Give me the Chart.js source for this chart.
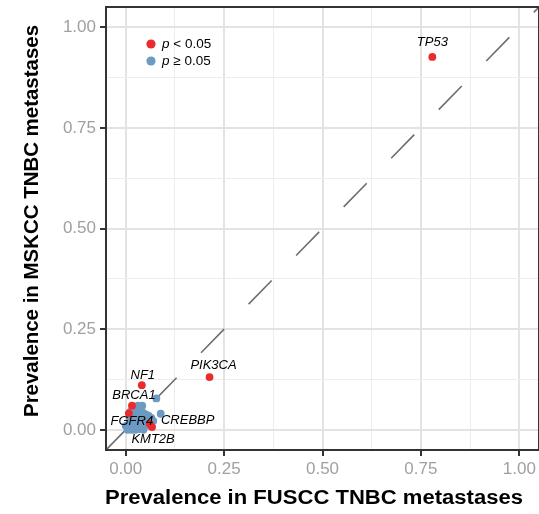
<!DOCTYPE html>
<html>
<head>
<meta charset="utf-8">
<script src="https://cdn.jsdelivr.net/npm/chart.js@4"></script>
<style>
  html, body { margin: 0; padding: 0; background: #fff; overflow: hidden; }
  #wrap { width: 543px; height: 514px; }
</style>
</head>
<body>
<div id="wrap"><canvas id="chart"></canvas></div>
<script>
// ── Data ──
const sigGenes = ["TP53", "PIK3CA", "NF1", "BRCA1", "FGFR4", "CREBBP", "KMT2B"];
const sigFuscc = [0.779, 0.213, 0.041, 0.016, 0.008, 0.061, 0.067];
const sigMskcc = [0.926, 0.131, 0.111, 0.060, 0.041, 0.015, 0.007];

const nsFuscc = [0.078, 0.089, 0.031, 0.042, 0.025, 0.035, 0.045, 0.052, 0.058, 0.065, 0.020, 0.030,
  0.040, 0.050, 0.010, 0.015, 0.025, 0.035, 0.045, 0.055, 0.000, 0.005, 0.010, 0.020, 0.030, 0.040,
  0.005, 0.015, 0.025, 0.035, 0.045, 0.012, 0.022, 0.060, 0.070];
const nsMskcc = [0.078, 0.040, 0.060, 0.060, 0.050, 0.045, 0.042, 0.038, 0.035, 0.030, 0.040, 0.035,
  0.030, 0.025, 0.030, 0.020, 0.020, 0.018, 0.015, 0.020, 0.010, 0.005, 0.012, 0.008, 0.005, 0.008,
  0.000, 0.000, 0.000, 0.002, 0.000, 0.045, 0.050, 0.010, 0.022];

const majorTicks = [0, 0.25, 0.5, 0.75, 1];
const minorTicks = [0.125, 0.375, 0.625, 0.875];
const axisRange = [-0.05, 1.05];

const legendLabels = ["< 0.05", "\u2265 0.05"];
const xTitle = "Prevalence in FUSCC TNBC metastases";
const yTitle = "Prevalence in MSKCC TNBC metastases";

const COLORS = {
  red: "#EC2A2C",
  blue: "#6C9AC2",
  diag: "#6E6E6E",
  major: "#E3E3E3",
  minor: "#EDEDED",
  frame: "#333333",
  tick: "#A0A0A0",
};
const FONT = "'Liberation Sans', Arial, sans-serif";

// label nudges in px (text centre relative to point)
const LABEL_NUDGE = {
  TP53: [0, -15], PIK3CA: [4, -12], NF1: [1, -10], BRCA1: [2, -10],
  FGFR4: [3, 8], CREBBP: [38, -3], KMT2B: [1, 12],
};

function isMajor(v) {
  return Math.abs(v * 4 - Math.round(v * 4)) < 1e-6;
}

function toPoints(xs, ys) {
  return xs.map((x, i) => ({ x, y: ys[i] }));
}

// ── Plugins ──
const decorPlugin = {
  id: "decor",
  afterDatasetsDraw(chart) {
    const { ctx, chartArea: a, scales } = chart;
    ctx.save();
    // gene labels
    ctx.fillStyle = "#000";
    ctx.font = "italic 13px " + FONT;
    ctx.textAlign = "center";
    ctx.textBaseline = "middle";
    sigGenes.forEach((g, i) => {
      const px = scales.x.getPixelForValue(sigFuscc[i]);
      const py = scales.y.getPixelForValue(sigMskcc[i]);
      const [dx, dy] = LABEL_NUDGE[g];
      ctx.fillText(g, px + dx, py + dy);
    });

    // legend
    const lx = a.left + 45, ly = a.top + 37;
    [COLORS.red, COLORS.blue].forEach((c, i) => {
      const y = ly + i * 17;
      ctx.fillStyle = c;
      ctx.beginPath();
      ctx.arc(lx, y, 4.6, 0, Math.PI * 2);
      ctx.fill();
      ctx.fillStyle = "#000";
      ctx.textAlign = "left";
      ctx.font = "italic 13.5px " + FONT;
      ctx.fillText("p", lx + 11, y);
      const w = ctx.measureText("p ").width;
      ctx.font = "13.5px " + FONT;
      ctx.fillText(legendLabels[i], lx + 11 + w, y);
    });

    // frame
    ctx.strokeStyle = COLORS.frame;
    ctx.lineWidth = 2;
    ctx.strokeRect(a.left, a.top, a.right - a.left, a.bottom - a.top);
    ctx.restore();
  },
  afterDraw(chart) {
    const { ctx } = chart;
    ctx.save();
    ctx.fillStyle = "#000";
    ctx.font = "bold 20px " + FONT;
    ctx.textAlign = "center";
    ctx.textBaseline = "middle";
    // x title
    let w = ctx.measureText(xTitle).width;
    ctx.translate(314, 498);
    ctx.scale(418 / w, 1);
    ctx.fillText(xTitle, 0, 0);
    ctx.setTransform(1, 0, 0, 1, 0, 0);
    // y title
    w = ctx.measureText(yTitle).width;
    ctx.translate(32, 221);
    ctx.rotate(-Math.PI / 2);
    ctx.scale(392 / w, 1);
    ctx.fillText(yTitle, 0, 0);
    ctx.restore();
  },
};

// ── Chart ──
const gridOpts = {
  color: (c) => (isMajor(c.tick.value) ? COLORS.major : COLORS.minor),
  lineWidth: (c) => (isMajor(c.tick.value) ? 2 : 1),
  tickColor: (c) => (isMajor(c.tick.value) ? COLORS.frame : "rgba(0,0,0,0)"),
  tickWidth: 2,
  tickLength: 6,
  drawTicks: true,
};

function allTicks(scale) {
  scale.ticks = [...majorTicks, ...minorTicks].sort((a, b) => a - b).map((v) => ({ value: v }));
}

const tickOpts = {
  callback: (v) => (isMajor(v) ? v.toFixed(2) : ""),
  color: COLORS.tick,
  font: { family: FONT, size: 17 },
  autoSkip: false,
  maxRotation: 0,
};

new Chart(document.getElementById("chart"), {
  type: "scatter",
  data: {
    datasets: [
      {
        label: "p < 0.05",
        data: toPoints(sigFuscc, sigMskcc),
        backgroundColor: COLORS.red,
        borderWidth: 0,
        pointRadius: 3.9,
        order: 1,
      },
      {
        label: "p >= 0.05",
        data: toPoints(nsFuscc, nsMskcc),
        backgroundColor: COLORS.blue,
        borderWidth: 0,
        pointRadius: 3.9,
        order: 2,
      },
      {
        type: "line",
        label: "y = x",
        data: toPoints(axisRange, axisRange),
        borderColor: COLORS.diag,
        borderWidth: 1.6,
        borderDash: [33, 35],
        pointRadius: 0,
        order: 3,
      },
    ],
  },
  options: {
    responsive: true,
    maintainAspectRatio: false,
    animation: false,
    layout: { padding: { top: 7, right: 0, left: 0, bottom: 0 } },
    plugins: { legend: { display: false }, tooltip: { enabled: false } },
    scales: {
      x: {
        type: "linear",
        min: axisRange[0],
        max: axisRange[1],
        afterBuildTicks: allTicks,
        afterFit: (s) => { s.height = 64; s.paddingLeft = 0; s.paddingRight = 0; },
        ticks: { ...tickOpts, padding: 3 },
        grid: gridOpts,
        border: { display: false },
      },
      y: {
        type: "linear",
        min: axisRange[0],
        max: axisRange[1],
        afterBuildTicks: allTicks,
        afterFit: (s) => { s.width = 106; s.paddingTop = 0; s.paddingBottom = 0; },
        ticks: { ...tickOpts, padding: 4 },
        grid: gridOpts,
        border: { display: false },
      },
    },
  },
  plugins: [decorPlugin],
});
</script>
</body>
</html>
